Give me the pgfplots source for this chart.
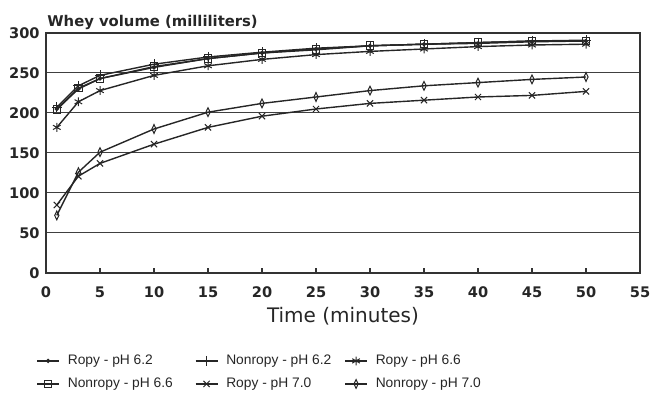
\documentclass[border=0pt]{standalone}
\usepackage{fontspec}
\setmainfont{Liberation Sans}
\newfontfamily\djv{DejaVu Sans}
\usepackage{pgfplots}
\pgfplotsset{compat=1.18}
\newcommand\tickfont{\djv\bfseries\fontsize{7.3}{8}\selectfont}
\newcommand\titlefont{\djv\bfseries\fontsize{7.4}{8}\selectfont}
\newcommand\xlabfont{\djv\fontsize{10}{11}\selectfont}
\newcommand\legfont{\fontsize{6.9}{7.5}\selectfont}
\begin{document}
\begin{tikzpicture}
\useasboundingbox (-23pt,-61pt) rectangle (303pt,136.5pt);
\begin{axis}[
  at={(0,0)}, anchor=south west, scale only axis,
  width=297pt, height=120pt,
  xmin=0, xmax=55, ymin=0, ymax=300,
  xtick={0,5,...,55}, ytick={0,50,...,300},
  ymajorgrids, grid style={black!75, line width=0.5pt},
  axis line style={black!80, line width=0.6pt},
  tick align=inside, tick pos=left,
  ytick style={draw=none},
  xtick style={black!80, line width=0.6pt},
  major tick length=2.5pt,
  /pgf/number format/assume math mode=true,
  ticklabel style={font=\tickfont, text=black!85},
  yticklabel style={anchor=east, inner sep=0pt, xshift=-3pt},
  xticklabel style={anchor=north, inner sep=0pt, yshift=-6.5pt},
  title={Whey volume (milliliters)},
  title style={at={(axis description cs:0,1)}, anchor=base west, inner sep=0pt, font=\titlefont, text=black!85, yshift=-3pt, xshift=0.5pt},
  xlabel={Time (minutes)},
  xlabel style={at={(axis description cs:0.5,0)}, anchor=base, inner sep=0pt, yshift=-25pt, font=\xlabfont, text=black!85},
  legend columns=3,
  legend cell align=left,
  legend style={at={(axis description cs:0,0)}, anchor=north west, xshift=-5pt, yshift=-40.5pt,
    draw=none, fill=none, inner sep=0pt, font=\legfont, text=black!85,
    row sep=5pt,
    nodes={inner sep=0pt, text height=5pt, text depth=1.5pt},
    /tikz/every odd column/.append style={column sep=4pt},
    /tikz/column 2/.style={column sep=11pt},
    /tikz/column 4/.style={column sep=6.5pt}},
  legend image code/.code={\draw[mark repeat=2,mark phase=2] plot coordinates {(0pt,0pt)(5.5pt,0pt)(11pt,0pt)};},
]
\addplot[black!85, line width=0.7pt, mark=*, mark size=0.7pt, mark options={solid, fill=black}] coordinates {(1,205)(3,230)(5,243)(10,257)(15,268)(20,275)(25,280)(30,284)(35,286)(40,287)(45,289)(50,290)};
\addlegendentry{Ropy - pH 6.2}
\addplot[black!85, line width=0.7pt, mark=+, mark size=2.5pt, mark options={solid, line width=0.5pt}] coordinates {(1,207)(3,234)(5,247)(10,261)(15,270)(20,276)(25,281)(30,284)(35,286)(40,288)(45,290)(50,291)};
\addlegendentry{Nonropy - pH 6.2}
\addplot[black!85, line width=0.7pt, mark=asterisk, mark size=2.2pt, mark options={solid, line width=0.5pt}] coordinates {(1,182)(3,214)(5,228)(10,247)(15,259)(20,267)(25,273)(30,277)(35,280)(40,283)(45,285)(50,286)};
\addlegendentry{Ropy - pH 6.6}
\addplot[black!85, line width=0.7pt, mark=square, mark size=1.9pt, mark options={solid, line width=0.5pt, fill=none}] coordinates {(1,204)(3,231)(5,243)(10,258)(15,268)(20,275)(25,279)(30,284)(35,286)(40,288)(45,290)(50,290)};
\addlegendentry{Nonropy - pH 6.6}
\addplot[black!85, line width=0.7pt, mark=x, mark size=2.2pt, mark options={solid, line width=0.5pt}] coordinates {(1,85)(3,121)(5,137)(10,161)(15,182)(20,196)(25,205)(30,212)(35,216)(40,220)(45,222)(50,227)};
\addlegendentry{Ropy - pH 7.0}
\addplot[black!85, line width=0.7pt, mark=diamond, mark size=2.2pt, mark options={solid, line width=0.5pt, fill=white, xscale=0.65}] coordinates {(1,72)(3,126)(5,151)(10,180)(15,201)(20,212)(25,220)(30,228)(35,234)(40,238)(45,242)(50,245)};
\addlegendentry{Nonropy - pH 7.0}
\end{axis}
\end{tikzpicture}
\end{document}
